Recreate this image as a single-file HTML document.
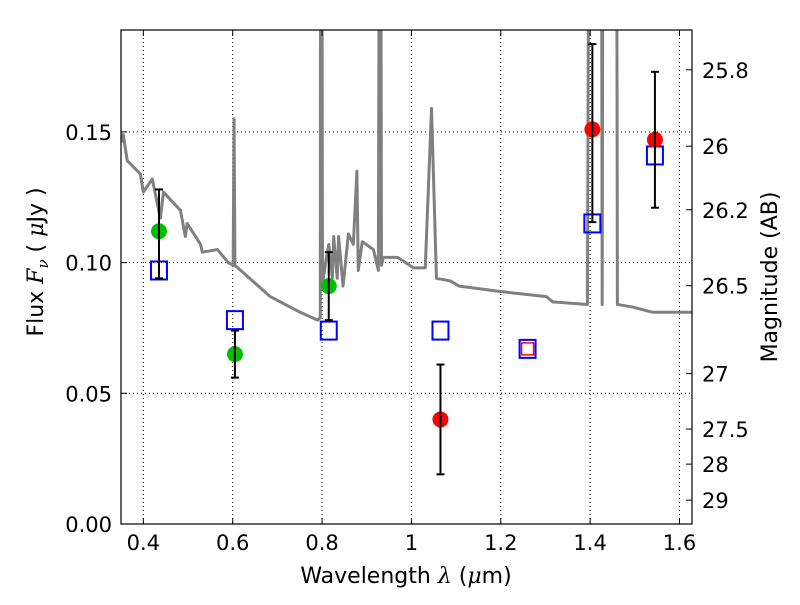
<!DOCTYPE html>
<html><head><meta charset="utf-8"><style>
body{margin:0;background:#fff}
svg text{font-family:"DejaVu Sans","Liberation Sans",sans-serif;fill:#000}
</style></head><body>
<svg id="chart" width="800" height="600" viewBox="0 0 800 600" xmlns="http://www.w3.org/2000/svg">
<defs><clipPath id="clip"><rect x="121" y="30" width="571" height="494"/></clipPath></defs>
<rect x="0" y="0" width="800" height="600" fill="#fff"/>
<g id="grid"></g>
<g id="spec" clip-path="url(#clip)"></g>
<g id="marks" clip-path="url(#clip)"></g>
<rect x="121" y="30" width="571" height="494" fill="none" stroke="#000" stroke-width="1.2"/>
<g id="axes"></g>
<text x="406" y="583" font-size="22" text-anchor="middle">Wavelength  <tspan font-style="italic" font-family="DejaVu Serif">λ</tspan> (<tspan font-style="italic" font-family="DejaVu Serif">μ</tspan>m)</text>
<text transform="translate(43,262) rotate(-90)" font-size="22" text-anchor="middle">Flux  <tspan font-style="italic" font-family="DejaVu Serif">F</tspan><tspan font-style="italic" font-family="DejaVu Serif" font-size="15" dy="5">ν</tspan><tspan dy="-5">  (  </tspan><tspan font-style="italic" font-family="DejaVu Serif">μ</tspan>Jy )</text>
<text transform="translate(777,277) rotate(-90)" font-size="22" text-anchor="middle">Magnitude (AB)</text>
</svg>
<script>
const specWave=[0.35,0.355,0.364,0.393,0.40,0.42,0.438,0.445,0.483,0.494,0.498,0.528,0.532,0.566,0.59,0.601,0.603,0.605,0.684,0.751,0.79,0.796,0.797,0.799,0.801,0.808,0.815,0.823,0.826,0.834,0.837,0.847,0.859,0.87,0.878,0.881,0.89,0.915,0.926,0.929,0.931,0.933,0.937,0.969,1.005,1.031,1.045,1.056,1.087,1.107,1.197,1.302,1.316,1.394,1.398,1.400,1.402,1.425,1.427,1.429,1.458,1.459,1.461,1.495,1.54,1.627];
const specFlux=[0.146,0.149,0.139,0.134,0.127,0.132,0.117,0.127,0.120,0.110,0.115,0.107,0.104,0.105,0.100,0.099,0.155,0.099,0.087,0.081,0.078,0.079,0.3,0.3,0.092,0.100,0.107,0.094,0.110,0.094,0.110,0.091,0.111,0.107,0.135,0.097,0.108,0.105,0.097,0.3,0.3,0.099,0.102,0.102,0.098,0.098,0.159,0.094,0.093,0.091,0.089,0.087,0.085,0.084,0.3,0.3,0.3,0.3,0.084,0.3,0.3,0.3,0.084,0.083,0.081,0.081];
const greenWave=[0.435,0.605,0.815];
const greenFlux=[0.112,0.065,0.091];
const greenLo=[0.094,0.056,0.078];
const greenHi=[0.128,0.074,0.104];
const redWave=[1.065,1.405,1.545];
const redFlux=[0.040,0.151,0.147];
const redLo=[0.019,0.1155,0.121];
const redHi=[0.061,0.1836,0.173];
const modelWave=[0.435,0.605,0.815,1.065,1.26,1.405,1.545];
const modelFlux=[0.097,0.078,0.074,0.074,0.067,0.115,0.141];
const smallWave=[1.26];
const smallFlux=[0.067];
const xTicks=[0.4,0.6,0.8,1.0,1.2,1.4,1.6];
const xTickLabels=["0.4","0.6","0.8","1","1.2","1.4","1.6"];
const yTicks=[0,0.05,0.10,0.15];
const yTickLabels=["0.00","0.05","0.10","0.15"];
const magTicks=[25.8,26,26.2,26.5,27,27.5,28,29];
const magTickLabels=["25.8","26","26.2","26.5","27","27.5","28","29"];

const X0=121,X1=692,Y0=524,Y1=30,XMIN=0.35,XMAX=1.628,YMIN=0,YMAX=0.189;
const sx=v=>X0+(v-XMIN)/(XMAX-XMIN)*(X1-X0);
const sy=v=>Y0-(v-YMIN)/(YMAX-YMIN)*(Y0-Y1);
const magToFlux=m=>Math.pow(10,(23.9-m)/2.5);
const NS="http://www.w3.org/2000/svg";
function mk(tag,attrs,parent){const e=document.createElementNS(NS,tag);for(const k in attrs)e.setAttribute(k,attrs[k]);parent.appendChild(e);return e;}
const grid=document.getElementById('grid'),axes=document.getElementById('axes'),spec=document.getElementById('spec'),marks=document.getElementById('marks');

xTicks.forEach((t,i)=>{const x=sx(t);
 const g=mk('line',{x1:x,x2:x,y1:Y1,y2:Y0,stroke:'#000','stroke-width':1,'stroke-dasharray':'1,3'},grid);
 
 
 mk('line',{x1:x,x2:x,y1:Y0,y2:Y0-6,stroke:'#000'},axes);
 mk('line',{x1:x,x2:x,y1:Y1,y2:Y1+6,stroke:'#000'},axes);
 const tx=mk('text',{x:x,y:Y0+26,'font-size':21,'text-anchor':'middle'},axes);tx.textContent=xTickLabels[i];
 
 
});
yTicks.forEach((t,i)=>{const y=sy(t);
 if(t>0){const g=mk('line',{x1:X0,x2:X1,y1:y,y2:y,stroke:'#000','stroke-width':1,'stroke-dasharray':'1,3'},grid);
 
 }
 mk('line',{x1:X0,x2:X0+6,y1:y,y2:y,stroke:'#000'},axes);
 const tx=mk('text',{x:X0-9,y:y+8,'font-size':21,'text-anchor':'end'},axes);tx.textContent=yTickLabels[i];
 
 
});
magTicks.forEach((m,i)=>{const y=sy(magToFlux(m));
 mk('line',{x1:X1-6,x2:X1,y1:y,y2:y,stroke:'#000'},axes);
 const tx=mk('text',{x:X1+10,y:y+8,'font-size':21},axes);tx.textContent=magTickLabels[i];
 
 
});

const pl=mk('polyline',{points:specWave.map((w,i)=>sx(w)+','+sy(specFlux[i])).join(' '),fill:'none',stroke:'#808080','stroke-width':3,'stroke-linejoin':'round'},spec);



modelWave.forEach((w,i)=>{const x=sx(w),y=sy(modelFlux[i]);
 const r=mk('rect',{x:x-8,y:y-9,width:16,height:18,fill:'none',stroke:'#0000ff','stroke-width':2},marks);
 
 
});
smallWave.forEach((w,i)=>{const x=sx(w),y=sy(smallFlux[i]);
 const r=mk('rect',{x:x-6,y:y-6,width:12,height:12,fill:'none',stroke:'#ff0000','stroke-width':1.5},marks);
 
 
});
function pts(W,F,L,H,col,name){W.forEach((w,i)=>{const x=sx(w);
 const c=mk('circle',{cx:x,cy:sy(F[i]),r:8,fill:col},marks);
 
 
 const e=mk('g',{},marks);
 
 
 mk('line',{x1:x,x2:x,y1:sy(L[i]),y2:sy(H[i]),stroke:'#000','stroke-width':2},e);
 mk('line',{x1:x-4,x2:x+4,y1:sy(L[i]),y2:sy(L[i]),stroke:'#000','stroke-width':2},e);
 mk('line',{x1:x-4,x2:x+4,y1:sy(H[i]),y2:sy(H[i]),stroke:'#000','stroke-width':2},e);
});}
pts(greenWave,greenFlux,greenLo,greenHi,'#00bf00','green');
pts(redWave,redFlux,redLo,redHi,'#ff0000','red');
</script>
</body></html>
